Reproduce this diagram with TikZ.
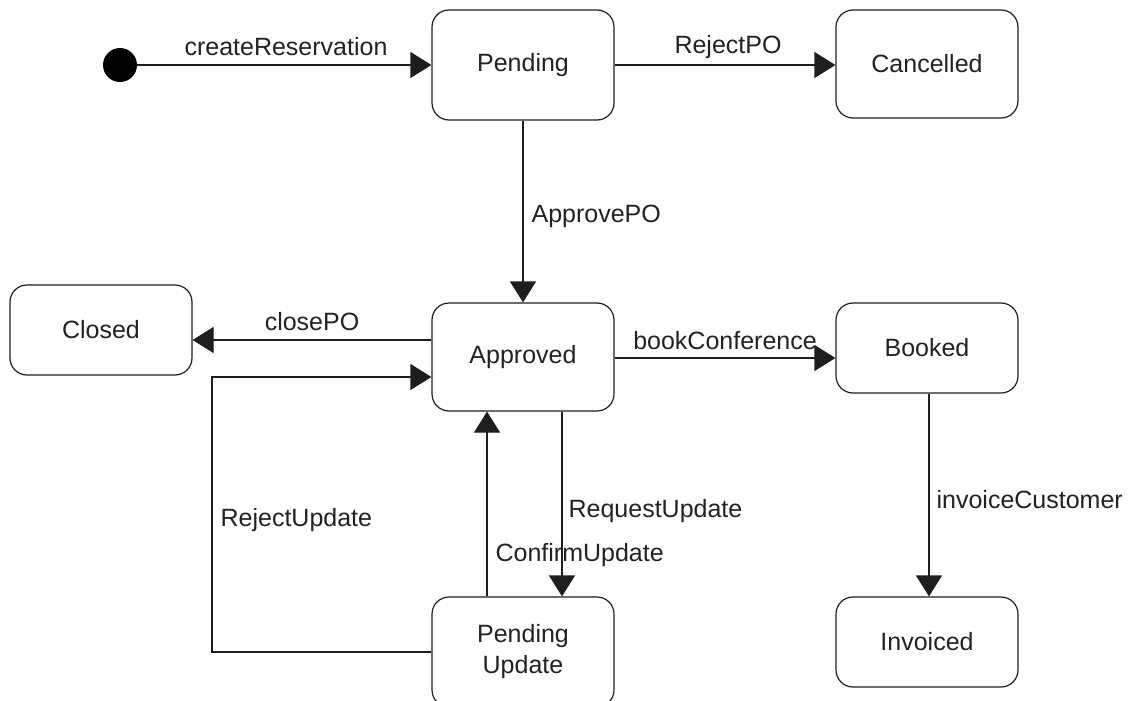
\documentclass[tikz,border=0pt]{standalone}
\usepackage{fontspec}
\setmainfont{Liberation Sans}
\usetikzlibrary{arrows.meta}
\definecolor{edge}{HTML}{1E1E1E}
\definecolor{ink}{HTML}{222222}
\tikzset{
  state/.style={draw=edge, line width=1.2pt, rounded corners=17pt,
    minimum width=182pt, inner sep=0pt, align=center,
    font=\fontsize{25}{31}\selectfont, text=ink},
  tr/.style={draw=edge, line width=1.2pt,
    -{Triangle[length=21pt,width=26pt]}},
  lbl/.style={font=\fontsize{25}{31}\selectfont, text=ink, inner sep=0pt},
}
\begin{document}
\begin{tikzpicture}[x=1pt,y=-1pt]
\useasboundingbox (0,0) rectangle (1135,701);

% states
\node[circle, fill=black, minimum size=34pt, inner sep=0pt] (init) at (120,65) {};
\node[state, minimum height=110pt] (pending)   at (523,65)  {Pending};
\node[state, minimum height=108pt] (cancelled) at (927,64)  {Cancelled};
\node[state, minimum height=90pt]  (closed)    at (101,330) {Closed};
\node[state, minimum height=108pt] (approved)  at (523,357) {Approved};
\node[state, minimum height=90pt]  (booked)    at (927,348) {Booked};
\node[state, minimum height=90pt]  (invoiced)  at (927,642) {Invoiced};
\node[state, minimum height=110pt] (pendupd)   at (523,652) {Pending\\Update};

% transitions
\draw[tr] (init) -- (pending.west)
  node[lbl] (l1) at (286,47) {createReservation};
\draw[tr] (pending.east) -- (cancelled.west |- pending.east)
  node[lbl] (l2) at (728,47) {RejectPO};
\draw[tr] (pending.south) -- (approved.north)
  node[lbl, anchor=west] (l3) at (531,216) {ApprovePO};
\draw[tr] (approved.west |- 0,340) -- (closed.east |- 0,340)
  node[lbl] (l4) at (312,322) {closePO};
\draw[tr] (approved.east |- 0,358) -- (booked.west |- 0,358)
  node[lbl] (l5) at (725,341) {bookConference};
\draw[tr] (booked.south -| 929,0) -- (invoiced.north -| 929,0)
  node[lbl, anchor=west] (l6) at (936,500) {invoiceCustomer};
\draw[tr] (approved.south -| 562,0) -- (pendupd.north -| 562,0)
  node[lbl, anchor=west] (l7) at (568,511) {RequestUpdate};
\draw[tr] (pendupd.north -| 487,0) -- (approved.south -| 487,0)
  node[lbl, anchor=west] (l8) at (495,555) {ConfirmUpdate};
\draw[tr] (pendupd.west) -- (212,652) -- (212,377) -- (approved.west |- 0,377)
  node[lbl, anchor=west] (l9) at (220,520) {RejectUpdate};
\end{tikzpicture}
\end{document}
